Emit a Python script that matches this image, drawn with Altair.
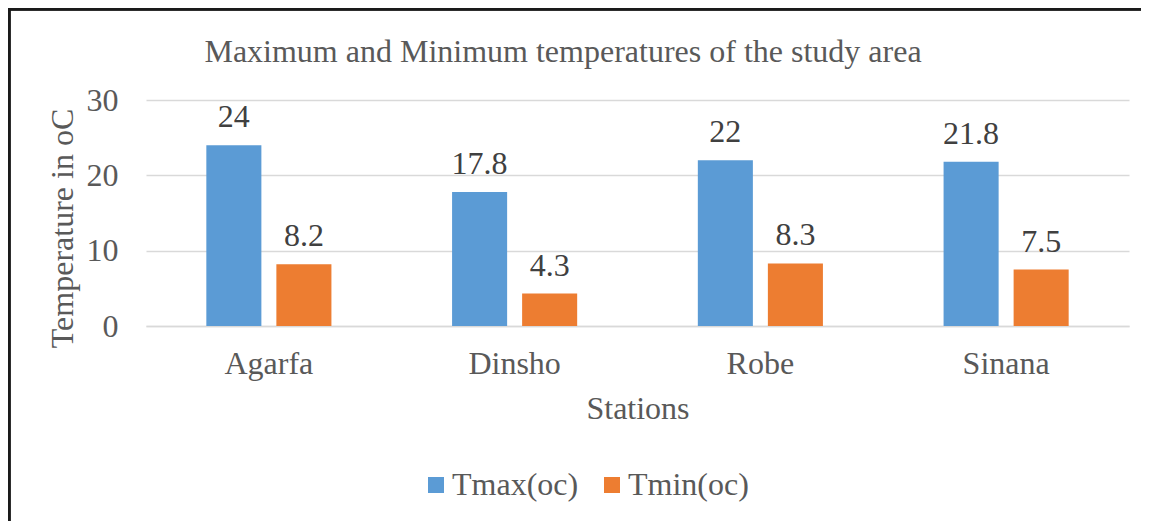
import altair as alt
import pandas as pd

stations = ["Agarfa", "Dinsho", "Robe", "Sinana"]
tmax = [24, 17.8, 22, 21.8]
tmin = [8.2, 4.3, 8.3, 7.5]
series = ["Tmax(oc)", "Tmin(oc)"]
colors = ["#5B9BD5", "#ED7D31"]
title_text = ["Maximum and Minimum temperatures of the study area"]

rows = []
for i, s in enumerate(stations):
    rows.append({"Station": s, "Series": series[0], "Value": tmax[i]})
    rows.append({"Station": s, "Series": series[1], "Value": tmin[i]})
df = pd.DataFrame(rows)

FONT = "'Times New Roman', 'Liberation Serif', 'DejaVu Serif', serif"
FS = 32
W, H = 983, 226

x = alt.X("Station:N", sort=stations,
          scale=alt.Scale(paddingInner=0.491, paddingOuter=0.2455),
          axis=alt.Axis(title="Stations", labelAngle=0, ticks=False, domainColor="#d9d9d9",
                        domainWidth=1.5, labelPadding=22, titlePadding=14, grid=False))
xo = alt.XOffset("Series:N", sort=series, scale=alt.Scale(paddingInner=0.214, paddingOuter=0))
y = alt.Y("Value:Q", scale=alt.Scale(domain=[0, 30], nice=False),
          axis=alt.Axis(title="Temperature in oC", values=[0, 10, 20, 30], ticks=False, domain=False,
                        gridColor="#d9d9d9", gridWidth=1.5, labelPadding=28, titlePadding=7,
                        titleY=128))

bars = alt.Chart(df).mark_bar().encode(
    x=x, xOffset=xo, y=y,
    color=alt.Color("Series:N", sort=series, scale=alt.Scale(domain=series, range=colors),
                    legend=alt.Legend(title=None, orient="none", direction="horizontal",
                                      legendX=274, legendY=369, symbolType="square",
                                      symbolSize=256, symbolStrokeWidth=0, labelFontSize=FS,
                                      labelFont=FONT, labelColor="#595959", columnPadding=17,
                                      labelOffset=0, labelLimit=300)),
)

labels = alt.Chart(df).mark_text(baseline="middle", dy=-28, fontSize=FS, font=FONT,
                                 color="#404040").encode(
    x=alt.X("Station:N", sort=stations), xOffset=alt.XOffset("Series:N", sort=series),
    y="Value:Q", text=alt.Text("Value:Q"),
)

title = alt.Chart(pd.DataFrame({"t": title_text})).mark_text(
    baseline="middle", align="center", fontSize=FS, font=FONT, color="#595959", clip=False
).encode(x=alt.value(563 - 146), y=alt.value(52 - 100), text="t:N")

frame_left = alt.Chart(df).mark_rule(color="#1a1a1a", strokeWidth=2.5, clip=False).encode(
    x=alt.value(-137), y=alt.value(-92), y2=alt.value(H + 200))
frame_top = alt.Chart(df).mark_rule(color="#1a1a1a", strokeWidth=2.5, clip=False).encode(
    x=alt.value(-138), x2=alt.value(W + 30), y=alt.value(-91))

chart = alt.layer(bars, labels, title, frame_left, frame_top).properties(
    width=W, height=H,
    autosize=alt.AutoSizeParams(type="none"),
    padding={"left": 138, "top": 92, "right": 12, "bottom": 195},
).configure_view(stroke=None).configure_axis(
    labelFont=FONT, titleFont=FONT, labelFontSize=FS, titleFontSize=FS,
    labelColor="#595959", titleColor="#595959", titleFontWeight="normal"
)

chart.save("out.html", embed_options={"renderer": "svg", "actions": False})
